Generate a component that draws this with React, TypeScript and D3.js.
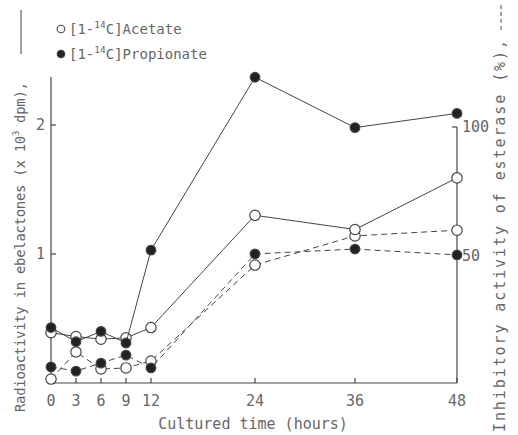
import React from 'react';
import * as d3 from 'd3';

// hours (x axis is drawn non-linearly: 0-12 expanded)
const hours = [0, 3, 6, 9, 12, 24, 36, 48];
const xTicks = [0, 3, 6, 9, 12, 24, 36, 48];

// radioactivity in ebelactones (x 10^3 dpm) — solid lines
const acetateRadio = [0.39, 0.36, 0.34, 0.35, 0.43, 1.3, 1.19, 1.59];
const propionateRadio = [0.43, 0.32, 0.4, 0.31, 1.03, 2.37, 1.98, 2.09];

// inhibitory activity of esterase (%) — dashed lines
const acetateInhib = [2.3, 12.8, 6.2, 6.6, 9.3, 46.5, 57.8, 60];
const propionateInhib = [7, 5.4, 8.5, 11.6, 6.6, 50.8, 52.7, 50.4];

const leftTicks = [1, 2];
const rightTicks = [50, 100];

const W = 518;
const H = 435;
const FONT = '"DejaVu Sans Mono", monospace';
const INK = '#444';
const TXT = '#666';

export default function App() {
  const x = d3.scaleLinear().domain([0, 12, 24, 36, 48]).range([51, 151, 255, 355, 457]);
  const y = d3.scaleLinear().domain([0, 2]).range([383, 125]);
  const y2 = d3.scaleLinear().domain([0, 100]).range([385, 127]);

  const lineL = d3.line<number>().x((_, i) => x(hours[i])).y(d => y(d));
  const lineR = d3.line<number>().x((_, i) => x(hours[i])).y(d => y2(d));

  const series = [
    { vals: acetateInhib, line: lineR, ys: y2, open: true, dash: '6,4' },
    { vals: propionateInhib, line: lineR, ys: y2, open: false, dash: '6,4' },
    { vals: acetateRadio, line: lineL, ys: y, open: true, dash: null },
    { vals: propionateRadio, line: lineL, ys: y, open: false, dash: null },
  ];

  const x0 = x(0), x1 = x(48);
  const yb = y(0);

  return (
    <svg width={W} height={H} style={{ position: 'absolute', left: 0, top: 0, background: '#fff' }}>
      {/* axes */}
      <g stroke={INK} strokeWidth={1.2} fill="none">
        <line x1={x0} x2={x0} y1={77} y2={yb} />
        <line x1={x0} x2={x1} y1={yb} y2={yb} />
        <line x1={x1} x2={x1} y1={y2(100)} y2={yb} />
        {xTicks.map(t => (
          <line key={t} x1={x(t)} x2={x(t)} y1={yb} y2={yb - 5} />
        ))}
        {leftTicks.map(t => (
          <line key={t} x1={x0} x2={x0 + 5} y1={y(t)} y2={y(t)} />
        ))}
        {rightTicks.map(t => (
          <line key={t} x1={x1} x2={x1 - 5} y1={y2(t)} y2={y2(t)} />
        ))}
      </g>

      {/* tick labels */}
      <g fontFamily={FONT} fontSize={15} fill={TXT}>
        {xTicks.map(t => (
          <text key={t} x={x(t)} y={406} textAnchor="middle">{t}</text>
        ))}
        {leftTicks.map(t => (
          <text key={t} x={x0 - 6} y={y(t) + 5} textAnchor="end">{t}</text>
        ))}
        {rightTicks.map(t => (
          <text key={t} x={x1 + 5} y={y2(t) + 5} textAnchor="start">{t}</text>
        ))}
        <text x={253} y={429} textAnchor="middle">Cultured time (hours)</text>
      </g>

      {/* series */}
      {series.map((s, si) => (
        <g key={si}>
          <path d={s.line(s.vals) || ''} fill="none" stroke={INK} strokeWidth={1}
            strokeDasharray={s.dash || undefined} />
          {s.vals.map((v, i) => (
            <circle key={i} cx={x(hours[i])} cy={s.ys(v)} r={s.open ? 5.2 : 4.8}
              fill={s.open ? '#fff' : '#222'} stroke={INK} strokeWidth={1.2} />
          ))}
        </g>
      ))}

      {/* legend */}
      <g fontFamily={FONT} fontSize={14} fill={TXT}>
        <circle cx={61} cy={29} r={3.8} fill="#fff" stroke={INK} strokeWidth={1.1} />
        <text x={69} y={34}>[1-<tspan fontSize={9.5} dy={-6}>14</tspan><tspan dy={6}>C]Acetate</tspan></text>
        <circle cx={61} cy={54} r={3.8} fill="#222" stroke={INK} strokeWidth={1.1} />
        <text x={69} y={59}>[1-<tspan fontSize={9.5} dy={-6}>14</tspan><tspan dy={6}>C]Propionate</tspan></text>
      </g>

      {/* left axis title */}
      <g transform="translate(25,412) rotate(-90)" fontFamily={FONT} fontSize={14} fill={TXT}>
        <text x={0} y={0} textLength={330} lengthAdjust="spacing">
          Radioactivity in ebelactones (x 10<tspan fontSize={9} dy={-6}>3</tspan><tspan dy={6}> dpm),</tspan>
        </text>
        <line x1={358} x2={402} y1={-4} y2={-4} stroke={INK} strokeWidth={1} />
      </g>

      {/* right axis title */}
      <g transform="translate(505,432) rotate(-90)" fontFamily={FONT} fontSize={15} fill={TXT}>
        <text x={0} y={0} textLength={392} lengthAdjust="spacing">Inhibitory activity of esterase (%),</text>
        <line x1={402} x2={428} y1={-4} y2={-4} stroke={INK} strokeWidth={1} strokeDasharray="4,3" />
      </g>
    </svg>
  );
}
